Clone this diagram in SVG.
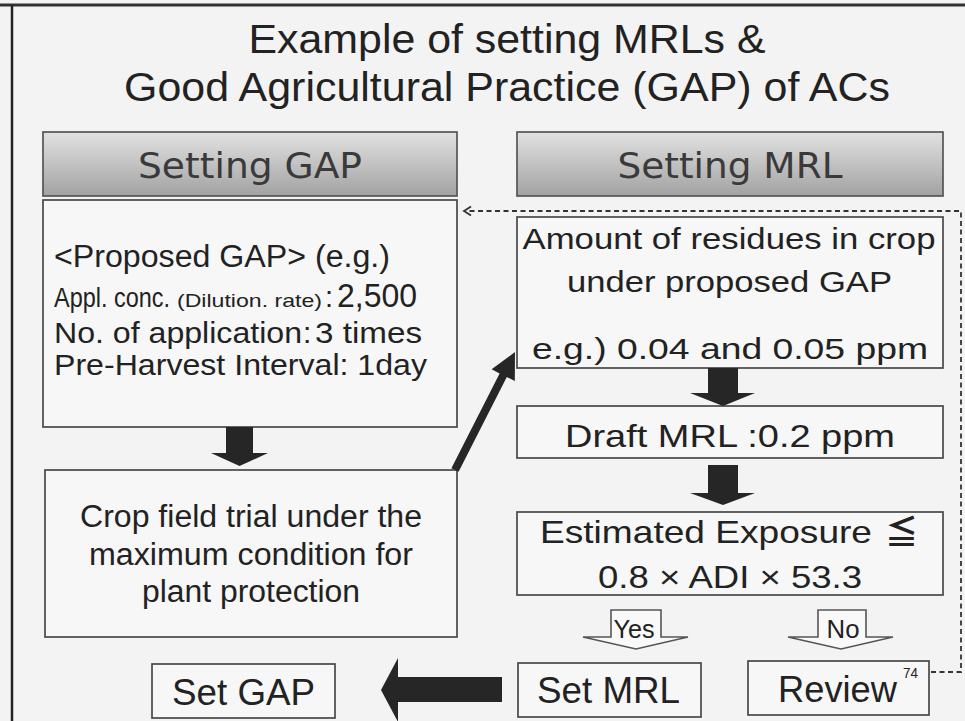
<svg xmlns="http://www.w3.org/2000/svg" width="965" height="721" viewBox="0 0 965 721">
  <defs>
    <linearGradient id="hdrGrad" x1="0" y1="0" x2="0" y2="1">
      <stop offset="0" stop-color="#e2e2e2"/>
      <stop offset="1" stop-color="#a2a2a2"/>
    </linearGradient>
    <style>
      .t { font-family: "Liberation Sans", Arial, sans-serif; fill: #222; }
      .hdr-t { font-family: "DejaVu Sans", Verdana, sans-serif; fill: #3a3a3a; font-size: 36px; text-anchor: middle; }
      .box { fill: #f7f7f7; stroke: #484848; stroke-width: 1.7; }
      .hdr { fill: url(#hdrGrad); stroke: #555; stroke-width: 1.7; }
      .block { fill: #262626; }
      .outline { fill: #f9f9f9; stroke: #555; stroke-width: 1.6; stroke-linejoin: miter; }
      .dash { fill: none; stroke: #333; stroke-width: 1.8; stroke-dasharray: 5 3.5; }
    </style>
  </defs>

  <!-- page background and frame -->
  <rect x="0" y="0" width="965" height="721" fill="#f3f3f3"/>
  <line x1="0" y1="5" x2="965" y2="5" stroke="#333" stroke-width="3"/>
  <line x1="12" y1="5" x2="12" y2="721" stroke="#222" stroke-width="2.5"/>

  <!-- title -->
  <g id="title">
    <text class="t" x="507" y="53" font-size="41" text-anchor="middle" textLength="517" lengthAdjust="spacingAndGlyphs" fill="#3a3a3a">Example of setting MRLs &amp;</text>
    <text class="t" x="507" y="101" font-size="41" text-anchor="middle" textLength="766" lengthAdjust="spacingAndGlyphs" fill="#3a3a3a">Good Agricultural Practice (GAP) of ACs</text>
  </g>

  <!-- column headers -->
  <g id="hdr-gap">
    <rect class="hdr" x="43" y="132" width="414" height="64"/>
    <text class="hdr-t" x="250" y="178" textLength="224" lengthAdjust="spacingAndGlyphs">Setting GAP</text>
  </g>
  <g id="hdr-mrl">
    <rect class="hdr" x="517" y="132" width="426" height="64"/>
    <text class="hdr-t" x="730" y="178" textLength="225" lengthAdjust="spacingAndGlyphs">Setting MRL</text>
  </g>

  <!-- left column -->
  <g id="proposed-gap">
    <rect class="box" x="43" y="200" width="414" height="227"/>
    <text class="t" x="54" y="267" font-size="31" textLength="336" lengthAdjust="spacingAndGlyphs">&lt;Proposed GAP&gt; (e.g.)</text>
    <text class="t" x="54" y="307" font-size="27" textLength="116" lengthAdjust="spacingAndGlyphs">Appl. conc.</text>
    <text class="t" x="177" y="307" font-size="19" textLength="145" lengthAdjust="spacingAndGlyphs">(Dilution. rate)</text>
    <text class="t" x="325" y="307" font-size="29">:</text>
    <text class="t" x="337" y="307" font-size="33" textLength="80" lengthAdjust="spacingAndGlyphs">2,500</text>
    <text class="t" x="54" y="343" font-size="30" textLength="248" lengthAdjust="spacingAndGlyphs">No. of application</text>
    <text class="t" x="303" y="343" font-size="30">:</text>
    <text class="t" x="315" y="343" font-size="30" textLength="107" lengthAdjust="spacingAndGlyphs">3 times</text>
    <text class="t" x="54" y="375" font-size="30" textLength="373" lengthAdjust="spacingAndGlyphs">Pre-Harvest Interval: 1day</text>
  </g>

  <g id="crop-trial">
    <rect class="box" x="45" y="470" width="412" height="167"/>
    <text class="t" x="251" y="527" font-size="31" text-anchor="middle" textLength="342" lengthAdjust="spacingAndGlyphs">Crop field trial under the</text>
    <text class="t" x="251" y="565" font-size="31" text-anchor="middle" textLength="324" lengthAdjust="spacingAndGlyphs">maximum condition for</text>
    <text class="t" x="251" y="602" font-size="31" text-anchor="middle" textLength="218" lengthAdjust="spacingAndGlyphs">plant protection</text>
  </g>

  <g id="set-gap">
    <rect class="box" x="152" y="664" width="183" height="54"/>
    <text class="t" x="243.5" y="705" font-size="36" text-anchor="middle" textLength="143" lengthAdjust="spacingAndGlyphs">Set GAP</text>
  </g>

  <!-- right column -->
  <g id="residues">
    <rect class="box" x="517" y="217" width="426" height="151"/>
    <text class="t" x="729" y="249" font-size="30" text-anchor="middle" textLength="413" lengthAdjust="spacingAndGlyphs">Amount of residues in crop</text>
    <text class="t" x="729.5" y="292" font-size="30" text-anchor="middle" textLength="325" lengthAdjust="spacingAndGlyphs">under proposed GAP</text>
    <text class="t" x="730" y="359" font-size="30" text-anchor="middle" textLength="396" lengthAdjust="spacingAndGlyphs">e.g.) 0.04 and 0.05 ppm</text>
  </g>

  <g id="draft-mrl">
    <rect class="box" x="517" y="406" width="426" height="52"/>
    <text class="t" x="730" y="447" font-size="32" text-anchor="middle" textLength="330" lengthAdjust="spacingAndGlyphs">Draft MRL :0.2 ppm</text>
  </g>

  <g id="exposure">
    <rect class="box" x="517" y="512" width="426" height="83"/>
    <text class="t" x="540" y="543" font-size="32" textLength="332" lengthAdjust="spacingAndGlyphs">Estimated Exposure</text>
    <text x="885" y="544" font-size="33" fill="#222" font-weight="bold" font-family="'Noto Sans CJK JP', 'Noto Sans CJK SC', sans-serif">≦</text>
    <text class="t" x="730" y="588" font-size="32" text-anchor="middle" textLength="264" lengthAdjust="spacingAndGlyphs">0.8 × ADI × 53.3</text>
  </g>

  <g id="set-mrl">
    <rect class="box" x="518" y="663" width="183" height="54"/>
    <text class="t" x="608.5" y="703" font-size="36" text-anchor="middle" textLength="143" lengthAdjust="spacingAndGlyphs">Set MRL</text>
  </g>

  <g id="review">
    <rect class="box" x="748" y="661" width="181" height="54"/>
    <text class="t" x="778" y="702" font-size="36" textLength="119" lengthAdjust="spacingAndGlyphs">Review</text>
    <text class="t" x="903" y="678" font-size="14" textLength="15" lengthAdjust="spacingAndGlyphs">74</text>
  </g>

  <!-- connectors -->
  <g id="connectors">
    <!-- proposed GAP to field trial -->
    <polygon class="block" points="226,427 253,427 253,453 268,453 239.5,466 211,453 226,453"/>
    <!-- field trial results feed the residue estimate -->
    <polygon class="block" points="451.4,468.2 499.6,373.4 491.6,369.3 515,352 514.8,381.1 506.8,377 458.6,471.8"/>
    <!-- residues to draft MRL -->
    <polygon class="block" points="708,368 738,368 738,393 755,393 723,406 690,393 708,393"/>
    <!-- draft MRL to exposure check -->
    <polygon class="block" points="708,465 738,465 738,493 755,493 723,505 690,493 708,493"/>
    <!-- Yes branch -->
    <g id="yes-branch">
      <polygon class="outline" points="611,610 661,610 661,637 688,637 636,649 583,637 611,637"/>
      <text class="t" x="634" y="638" font-size="26" text-anchor="middle" textLength="41" lengthAdjust="spacingAndGlyphs">Yes</text>
    </g>
    <!-- No branch -->
    <g id="no-branch">
      <polygon class="outline" points="818,610 866,610 866,637 893,637 841,649 788,637 818,637"/>
      <text class="t" x="843" y="638" font-size="26" text-anchor="middle" textLength="33" lengthAdjust="spacingAndGlyphs">No</text>
    </g>
    <!-- set MRL leads to set GAP -->
    <polygon class="block" points="502,677 398,677 398,658 381,690 398,722 398,702 502,702"/>
    <!-- review loops back to the proposed GAP -->
    <polyline class="dash" points="931,672 961,672 961,211 467,211"/>
    <polyline fill="none" stroke="#333" stroke-width="1.8" points="471,206.5 464,211 471,215.5"/>
  </g>
</svg>
